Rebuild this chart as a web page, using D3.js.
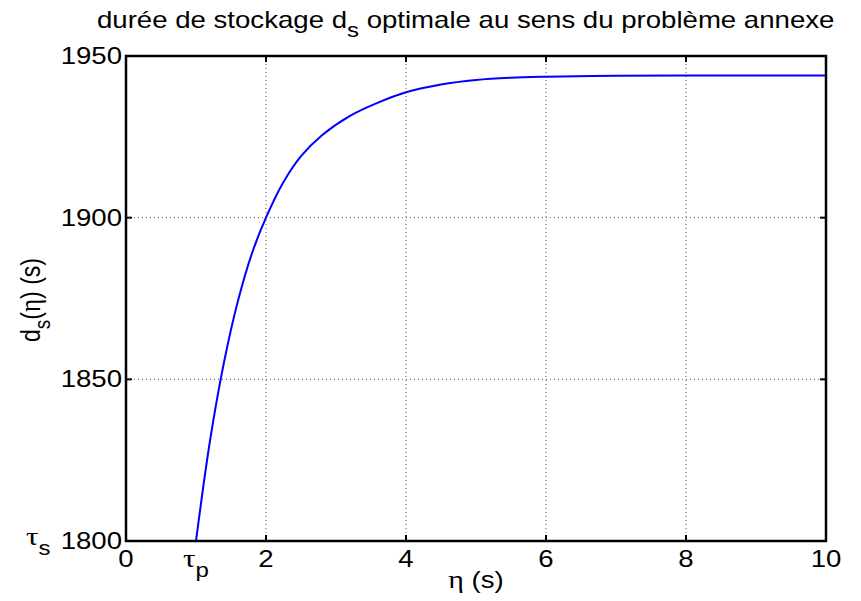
<!DOCTYPE html>
<html><head><meta charset="utf-8">
<script src="https://cdn.jsdelivr.net/npm/d3@7"></script>
<style>
body{margin:0;background:#fff;}
svg{display:block;}
text{font-family:"Liberation Sans",Arial,sans-serif;fill:#000;}
.greek{font-family:"Liberation Serif","Times New Roman",serif;}
</style></head>
<body><svg id="c" width="861" height="601"></svg>
<script>
// data
const eta = [1.0, 1.2, 1.4, 1.6, 1.8, 2.0, 2.25, 2.5, 2.8, 3.2, 3.6, 4.0, 4.5, 5.0, 5.5, 6.0, 7.0, 8.0, 9.0, 10.0];
const ds  = [1800, 1831, 1855.3, 1874.3, 1889, 1900, 1911, 1919, 1925.5, 1931.5, 1935.6, 1938.8, 1941.2, 1942.6, 1943.3, 1943.6, 1943.9, 1944, 1944, 1944];
const xTicks = [0, 1, 2, 4, 6, 8, 10];
const xTickLabels = ["0", "τp", "2", "4", "6", "8", "10"];
const yTicks = [1800, 1850, 1900, 1950];
const yTickLabels = ["1800", "1850", "1900", "1950"];
const gridX = [2, 4, 6, 8];
const gridY = [1850, 1900];
const titleParts = ["durée de stockage d", "s", " optimale au sens du problème annexe"];

const svg = d3.select("#c");
const L = 126, R = 826, T = 56, B = 541;
const x = d3.scaleLinear().domain([0, 10]).range([L, R]);
const y = d3.scaleLinear().domain([1800, 1950]).range([B, T]);
const SX = 1.2, FS = 23;

// grid
svg.append("g").selectAll("line").data(gridX).join("line")
  .attr("x1", d => x(d)).attr("x2", d => x(d)).attr("y1", T).attr("y2", B)
  .attr("stroke", "#555").attr("stroke-width", 1).attr("stroke-dasharray", "1,3");
svg.append("g").selectAll("line").data(gridY).join("line")
  .attr("y1", d => y(d)).attr("y2", d => y(d)).attr("x1", L).attr("x2", R)
  .attr("stroke", "#555").attr("stroke-width", 1).attr("stroke-dasharray", "1,3");

// inward tick marks
const tl = 6;
const tg = svg.append("g").attr("stroke", "#000").attr("stroke-width", 2);
gridX.forEach(d => {
  tg.append("line").attr("x1", x(d)).attr("x2", x(d)).attr("y1", B).attr("y2", B - tl);
  tg.append("line").attr("x1", x(d)).attr("x2", x(d)).attr("y1", T).attr("y2", T + tl);
});
gridY.forEach(d => {
  tg.append("line").attr("y1", y(d)).attr("y2", y(d)).attr("x1", L).attr("x2", L + tl);
  tg.append("line").attr("y1", y(d)).attr("y2", y(d)).attr("x1", R).attr("x2", R - tl);
});

// curve
const line = d3.line().x((d, i) => x(eta[i])).y(d => y(d)).curve(d3.curveCatmullRom.alpha(0.5));
svg.append("path").datum(ds).attr("d", line)
  .attr("fill", "none").attr("stroke", "#0000ff").attr("stroke-width", 2);

// frame
svg.append("rect").attr("x", L).attr("y", T).attr("width", R - L).attr("height", B - T)
  .attr("fill", "none").attr("stroke", "#000").attr("stroke-width", 2.5);

// x tick labels
xTicks.forEach((d, i) => {
  const g = svg.append("g").attr("transform", `translate(${x(d)},567) scale(${SX},1)`);
  const lab = xTickLabels[i];
  if (lab.startsWith("τ")) {
    const t = g.append("text").attr("text-anchor", "middle").attr("font-size", FS);
    t.append("tspan").attr("class", "greek").attr("font-size", 26).text("τ");
    t.append("tspan").attr("dy", 10).attr("font-size", 20).text(lab.slice(1));
  } else {
    g.append("text").attr("text-anchor", "middle").attr("font-size", FS).text(lab);
  }
});

// y tick labels
yTicks.forEach((d, i) => {
  const g = svg.append("g").attr("transform", `translate(${L - 4},${y(d) + 8}) scale(${SX},1)`);
  g.append("text").attr("text-anchor", "end").attr("font-size", FS).text(yTickLabels[i]);
});
// tau_s label
{
  const g = svg.append("g").attr("transform", `translate(26,${y(1800) + 4}) scale(${SX},1)`);
  const t = g.append("text").attr("font-size", FS);
  t.append("tspan").attr("class", "greek").attr("font-size", 26).text("τ");
  t.append("tspan").attr("dy", 10).attr("font-size", 20).text("s");
}

// x label
{
  const g = svg.append("g").attr("transform", `translate(476,588) scale(${SX},1)`);
  const t = g.append("text").attr("text-anchor", "middle").attr("font-size", FS);
  t.append("tspan").attr("class", "greek").attr("font-size", 25).text("η");
  t.append("tspan").text(" (s)");
}

// y label
{
  const g = svg.append("g").attr("transform", `translate(40,300) scale(${SX},1) rotate(-90)`);
  const t = g.append("text").attr("text-anchor", "middle").attr("font-size", FS);
  t.append("tspan").text("d");
  t.append("tspan").attr("dy", 8).attr("font-size", 19).text("s");
  t.append("tspan").attr("dy", -8).text("(");
  t.append("tspan").attr("class", "greek").attr("font-size", 25).text("η");
  t.append("tspan").text(") (s)");
}

// title
{
  const g = svg.append("g").attr("transform", `translate(97,28) scale(${SX},1)`);
  const t = g.append("text").attr("font-size", FS);
  t.append("tspan").text(titleParts[0]);
  t.append("tspan").attr("dy", 9).attr("font-size", 20).text(titleParts[1]);
  t.append("tspan").attr("dy", -9).text(titleParts[2]);
}
</script></body></html>
